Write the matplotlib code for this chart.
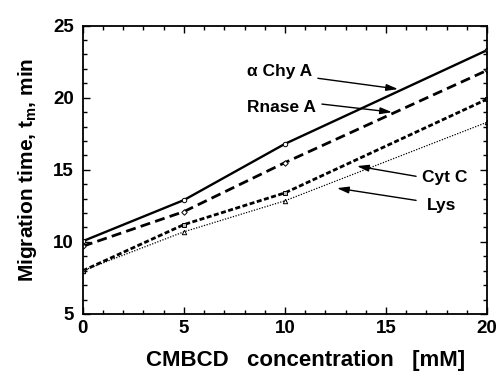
import matplotlib
matplotlib.use("Agg")
import matplotlib.pyplot as plt
from matplotlib.ticker import MultipleLocator

plt.rcParams['font.family'] = ['Liberation Sans', 'DejaVu Sans']
plt.rcParams['font.weight'] = 'bold'
plt.rcParams['mathtext.fontset'] = 'custom'
plt.rcParams['mathtext.bf'] = 'Liberation Sans:bold'
plt.rcParams['mathtext.rm'] = 'Liberation Sans:bold'
plt.rcParams['mathtext.default'] = 'bf'

# CMBCD concentration (mM)
conc = [0, 5, 10, 20]

# Migration times (min)
chy_a = [10.05, 12.9, 16.8, 23.3]
rnase_a = [9.7, 12.1, 15.5, 21.9]
cyt_c = [8.0, 11.2, 13.4, 19.9]
lys = [8.0, 10.7, 12.85, 18.3]

x_ticks = [0, 5, 10, 15, 20]
y_ticks = [5, 10, 15, 20, 25]

fig = plt.figure(figsize=(4.99, 3.72), dpi=100)
ax = fig.add_axes([0.166, 0.156, 0.81, 0.775])

ax.plot(conc, chy_a, color='black', lw=1.7, ls='-',
        marker='o', ms=3.2, mfc='white', mew=0.7)
ax.plot(conc, rnase_a, color='black', lw=2.0, ls=(0, (3.6, 1.9)),
        marker='D', ms=2.8, mfc='white', mew=0.7)
ax.plot(conc, cyt_c, color='black', lw=2.0, ls=(0, (1.8, 0.9)),
        marker='s', ms=3.2, mfc='#bbbbbb', mew=0.7)
ax.plot(conc, lys, color='black', lw=0.9, ls=(0, (1, 1.2)),
        marker='^', ms=3.2, mfc='white', mew=0.7)

ax.set_xlim(0, 20)
ax.set_ylim(5, 25)
ax.set_xticks(x_ticks)
ax.set_yticks(y_ticks)
ax.xaxis.set_minor_locator(MultipleLocator(1))
ax.yaxis.set_minor_locator(MultipleLocator(1))
ax.tick_params(which='both', direction='in', top=True, right=True, width=1)
ax.tick_params(which='major', length=5, labelsize=13.5)
ax.tick_params(axis='x', which='major', pad=4)
ax.tick_params(axis='y', which='major', pad=6.5)
ax.tick_params(which='minor', length=3)
for s in ax.spines.values():
    s.set_linewidth(1.3)

ax.set_xlabel('CMBCD   concentration   [mM]', fontsize=16, fontweight='bold')
ax.xaxis.set_label_coords(0.55, -0.124)
ax.set_ylabel('Migration time, t$_{m}$, min', fontsize=15, fontweight='bold', labelpad=10)

arrow = dict(arrowstyle='-|>,head_length=0.7,head_width=0.2', color='black',
             lw=1.0, shrinkA=0, shrinkB=0)

labels = [
    ('\u03b1 Chy A', (8.1, 21.8), (11.63, 21.35), (15.6, 20.6)),
    ('Rnase A', (8.1, 19.35), (11.83, 19.56), (15.3, 19.0)),
    ('Cyt C', (16.8, 14.5), (16.49, 14.55), (13.56, 15.26)),
    ('Lys', (17.0, 12.55), (16.49, 12.88), (12.57, 13.73)),
]
for text, tpos, start, tip in labels:
    ax.text(tpos[0], tpos[1], text, fontsize=12.5, fontweight='bold',
            ha='left', va='center')
    ax.annotate('', xy=tip, xytext=start, arrowprops=arrow)

fig.savefig('out.png', dpi=100)
